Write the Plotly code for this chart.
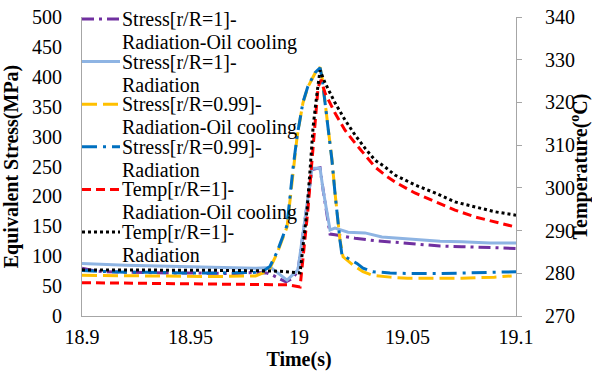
import plotly.graph_objects as go

# ---------------- data ----------------
t_p = [18.9, 18.905, 18.91, 18.92, 18.93, 18.94, 18.95, 18.96, 18.97, 18.98, 18.985, 18.988,
       18.991, 18.994, 18.997, 18.9995, 19.006, 19.0097, 19.0111, 19.0143, 19.0166,
       19.0258, 19.035, 19.042, 19.05, 19.065, 19.075, 19.088, 19.1]
s_p = [80, 76, 74, 73, 73, 72, 72, 72, 71, 73, 72, 68,
       62, 57, 63, 75, 245, 248, 211, 137, 136,
       130, 126, 124, 121, 117, 116, 114, 113]

t_lb = [18.9, 18.91, 18.92, 18.93, 18.94, 18.95, 18.96, 18.97, 18.98, 18.987, 18.9945, 18.9995,
        19.006, 19.0097, 19.0111, 19.0143, 19.0166, 19.0226, 19.0304, 19.0382, 19.05, 19.065,
        19.075, 19.088, 19.1]
s_lb = [88, 86, 85, 84, 83, 82, 81, 80, 80, 81, 60, 77,
        247, 247, 211, 144, 147, 140, 139, 132, 129, 125,
        124, 122, 122]

t_y = [18.9, 18.92, 18.94, 18.96, 18.98, 18.9834, 18.9866, 18.9899, 18.9945, 18.9972, 18.9991,
       19.0018, 19.0041, 19.0074, 19.0097, 19.0106, 19.0129, 19.0152, 19.0166, 19.018, 19.0189,
       19.0203, 19.025, 19.0295, 19.034, 19.042, 19.05, 19.06, 19.075, 19.09, 19.098]
s_y = [68, 67, 66, 66, 67, 72, 80, 105, 149, 244, 299,
       356, 383, 406, 416, 400, 328, 261, 206, 155, 127,
       99, 85, 74, 68, 65, 63, 63, 63, 65, 67]

t_b = [18.9, 18.91, 18.92, 18.93, 18.94, 18.95, 18.96, 18.97, 18.98, 18.9834, 18.9866, 18.9899,
       18.9945, 18.9972, 18.9991, 19.0018, 19.0041, 19.0074, 19.0097, 19.0106, 19.0129, 19.0152,
       19.0166, 19.018, 19.0189, 19.0198, 19.0267, 19.0295, 19.034, 19.042, 19.05, 19.065,
       19.08, 19.09, 19.1]
s_b = [76, 74, 73, 73, 72, 72, 72, 72, 73, 75, 83, 107,
       152, 246, 300, 357, 384, 407, 415, 399, 327, 260,
       205, 154, 126, 102, 88, 80, 74, 72, 71, 71,
       72, 73, 74]

t_r = [18.9, 18.92, 18.94, 18.96, 18.98, 18.995, 19.0005, 19.0018, 19.0041, 19.006, 19.0074,
       19.0088, 19.0102, 19.012, 19.0166, 19.0212, 19.0258, 19.0304, 19.035, 19.0396, 19.0442,
       19.0534, 19.0627, 19.0719, 19.0811, 19.0903, 19.1]
T_r = [277.8, 277.7, 277.6, 277.5, 277.4, 277.3, 276.8, 283.1, 294.8, 306.5, 315.9,
       323.6, 325.3, 322.2, 317.5, 313.5, 310.5, 307.7, 304.9, 303.0, 301.4,
       298.8, 296.7, 294.8, 293.2, 292.0, 290.8]

t_k = [18.9, 18.92, 18.94, 18.96, 18.98, 18.99, 19.0005, 19.0018, 19.0037, 19.0051, 19.0065,
       19.0083, 19.0097, 19.012, 19.0166, 19.0212, 19.0258, 19.0304, 19.035, 19.0396, 19.0442,
       19.0534, 19.0627, 19.0719, 19.0811, 19.0903, 19.1]
T_k = [280.8, 280.8, 280.7, 280.7, 280.6, 280.5, 280.1, 286.2, 294.8, 304.2, 314.3,
       322.2, 327.5, 324.6, 319.9, 315.9, 312.4, 309.3, 306.5, 304.9, 303.0,
       300.7, 298.8, 296.7, 295.5, 294.4, 293.6]

names_l1 = ["Stress[r/R=1]-", "Stress[r/R=1]-", "Stress[r/R=0.99]-", "Stress[r/R=0.99]-",
            "Temp[r/R=1]-", "Temp[r/R=1]-"]
names_l2 = ["Radiation-Oil cooling", "Radiation", "Radiation-Oil cooling", "Radiation",
            "Radiation-Oil cooling", "Radiation"]

colors = ["#7030A0", "#8EB4E3", "#FFC000", "#0070C0", "#FF0000", "#000000"]
dashes = ["12px,5px,3px,5px", "solid", "15px,6px", "15px,6px,3px,6px", "9px,5px", "3px,3px"]

series = [(t_p, s_p, "y"), (t_lb, s_lb, "y"), (t_y, s_y, "y"), (t_b, s_b, "y"),
          (t_r, T_r, "y2"), (t_k, T_k, "y2")]

FONT = "Liberation Serif"
W, H = 592, 376
ML, MR, MT, MB = 82, 76, 17, 60
PW, PH = W - ML - MR, H - MT - MB

fig = go.Figure()
for i, (tx, vy, ax) in enumerate(series):
    fig.add_trace(go.Scatter(
        x=tx, y=vy, yaxis=ax, mode="lines",
        name=names_l1[i] + names_l2[i], showlegend=False,
        line=dict(color=colors[i], width=3, dash=dashes[i]),
    ))

# manual legend (two text lines per entry, like the reference)
shapes, annotations = [], []
for k in range(6):
    y1px = 19 + 42.6 * k
    y2px = y1px + 23
    yp1 = (MT + PH - y1px) / PH
    yp2 = (MT + PH - y2px) / PH
    shapes.append(dict(type="line", xref="paper", yref="paper",
                       x0=0, x1=(120 - ML) / PW, y0=yp1, y1=yp1,
                       line=dict(color=colors[k], width=3, dash=dashes[k])))
    for txt, yp in ((names_l1[k], yp1), (names_l2[k], yp2)):
        annotations.append(dict(text=txt, xref="paper", yref="paper",
                                x=(121 - ML) / PW, y=yp, xanchor="left", yanchor="middle",
                                borderpad=0, showarrow=False,
                                font=dict(family=FONT, size=20, color="black")))

axis_common = dict(showgrid=False, zeroline=False, showline=True, linecolor="#A6A6A6",
                   linewidth=1, automargin=False,
                   tickfont=dict(family=FONT, size=20, color="black"))

fig.update_layout(
    width=W, height=H,
    margin=dict(l=ML, r=MR, t=MT, b=MB, pad=0, autoexpand=False),
    paper_bgcolor="white", plot_bgcolor="white",
    showlegend=False,
    font=dict(family=FONT, size=20, color="black"),
    xaxis=dict(range=[18.9, 19.1], dtick=0.05, tick0=18.9, ticks="",
               ticklabelstandoff=3,
               title=dict(text="<b>Time(s)</b>", font=dict(family=FONT, size=20, color="black"),
                          standoff=2),
               **axis_common),
    yaxis=dict(range=[0, 500], dtick=50, ticks="", ticklabelstandoff=15,
               title=dict(text="<b>Equivalent Stress(MPa)</b>",
                          font=dict(family=FONT, size=20, color="black"), standoff=8),
               **axis_common),
    yaxis2=dict(range=[270, 340], dtick=10, overlaying="y", side="right", anchor="x",
                ticks="outside", ticklen=5, tickcolor="#A6A6A6", ticklabelstandoff=19,
                title=dict(text="<b>Temperature(<sup>o</sup>C)</b>",
                           font=dict(family=FONT, size=20, color="black"), standoff=1),
                **axis_common),
    shapes=shapes, annotations=annotations,
)

fig.write_html("out.html")
